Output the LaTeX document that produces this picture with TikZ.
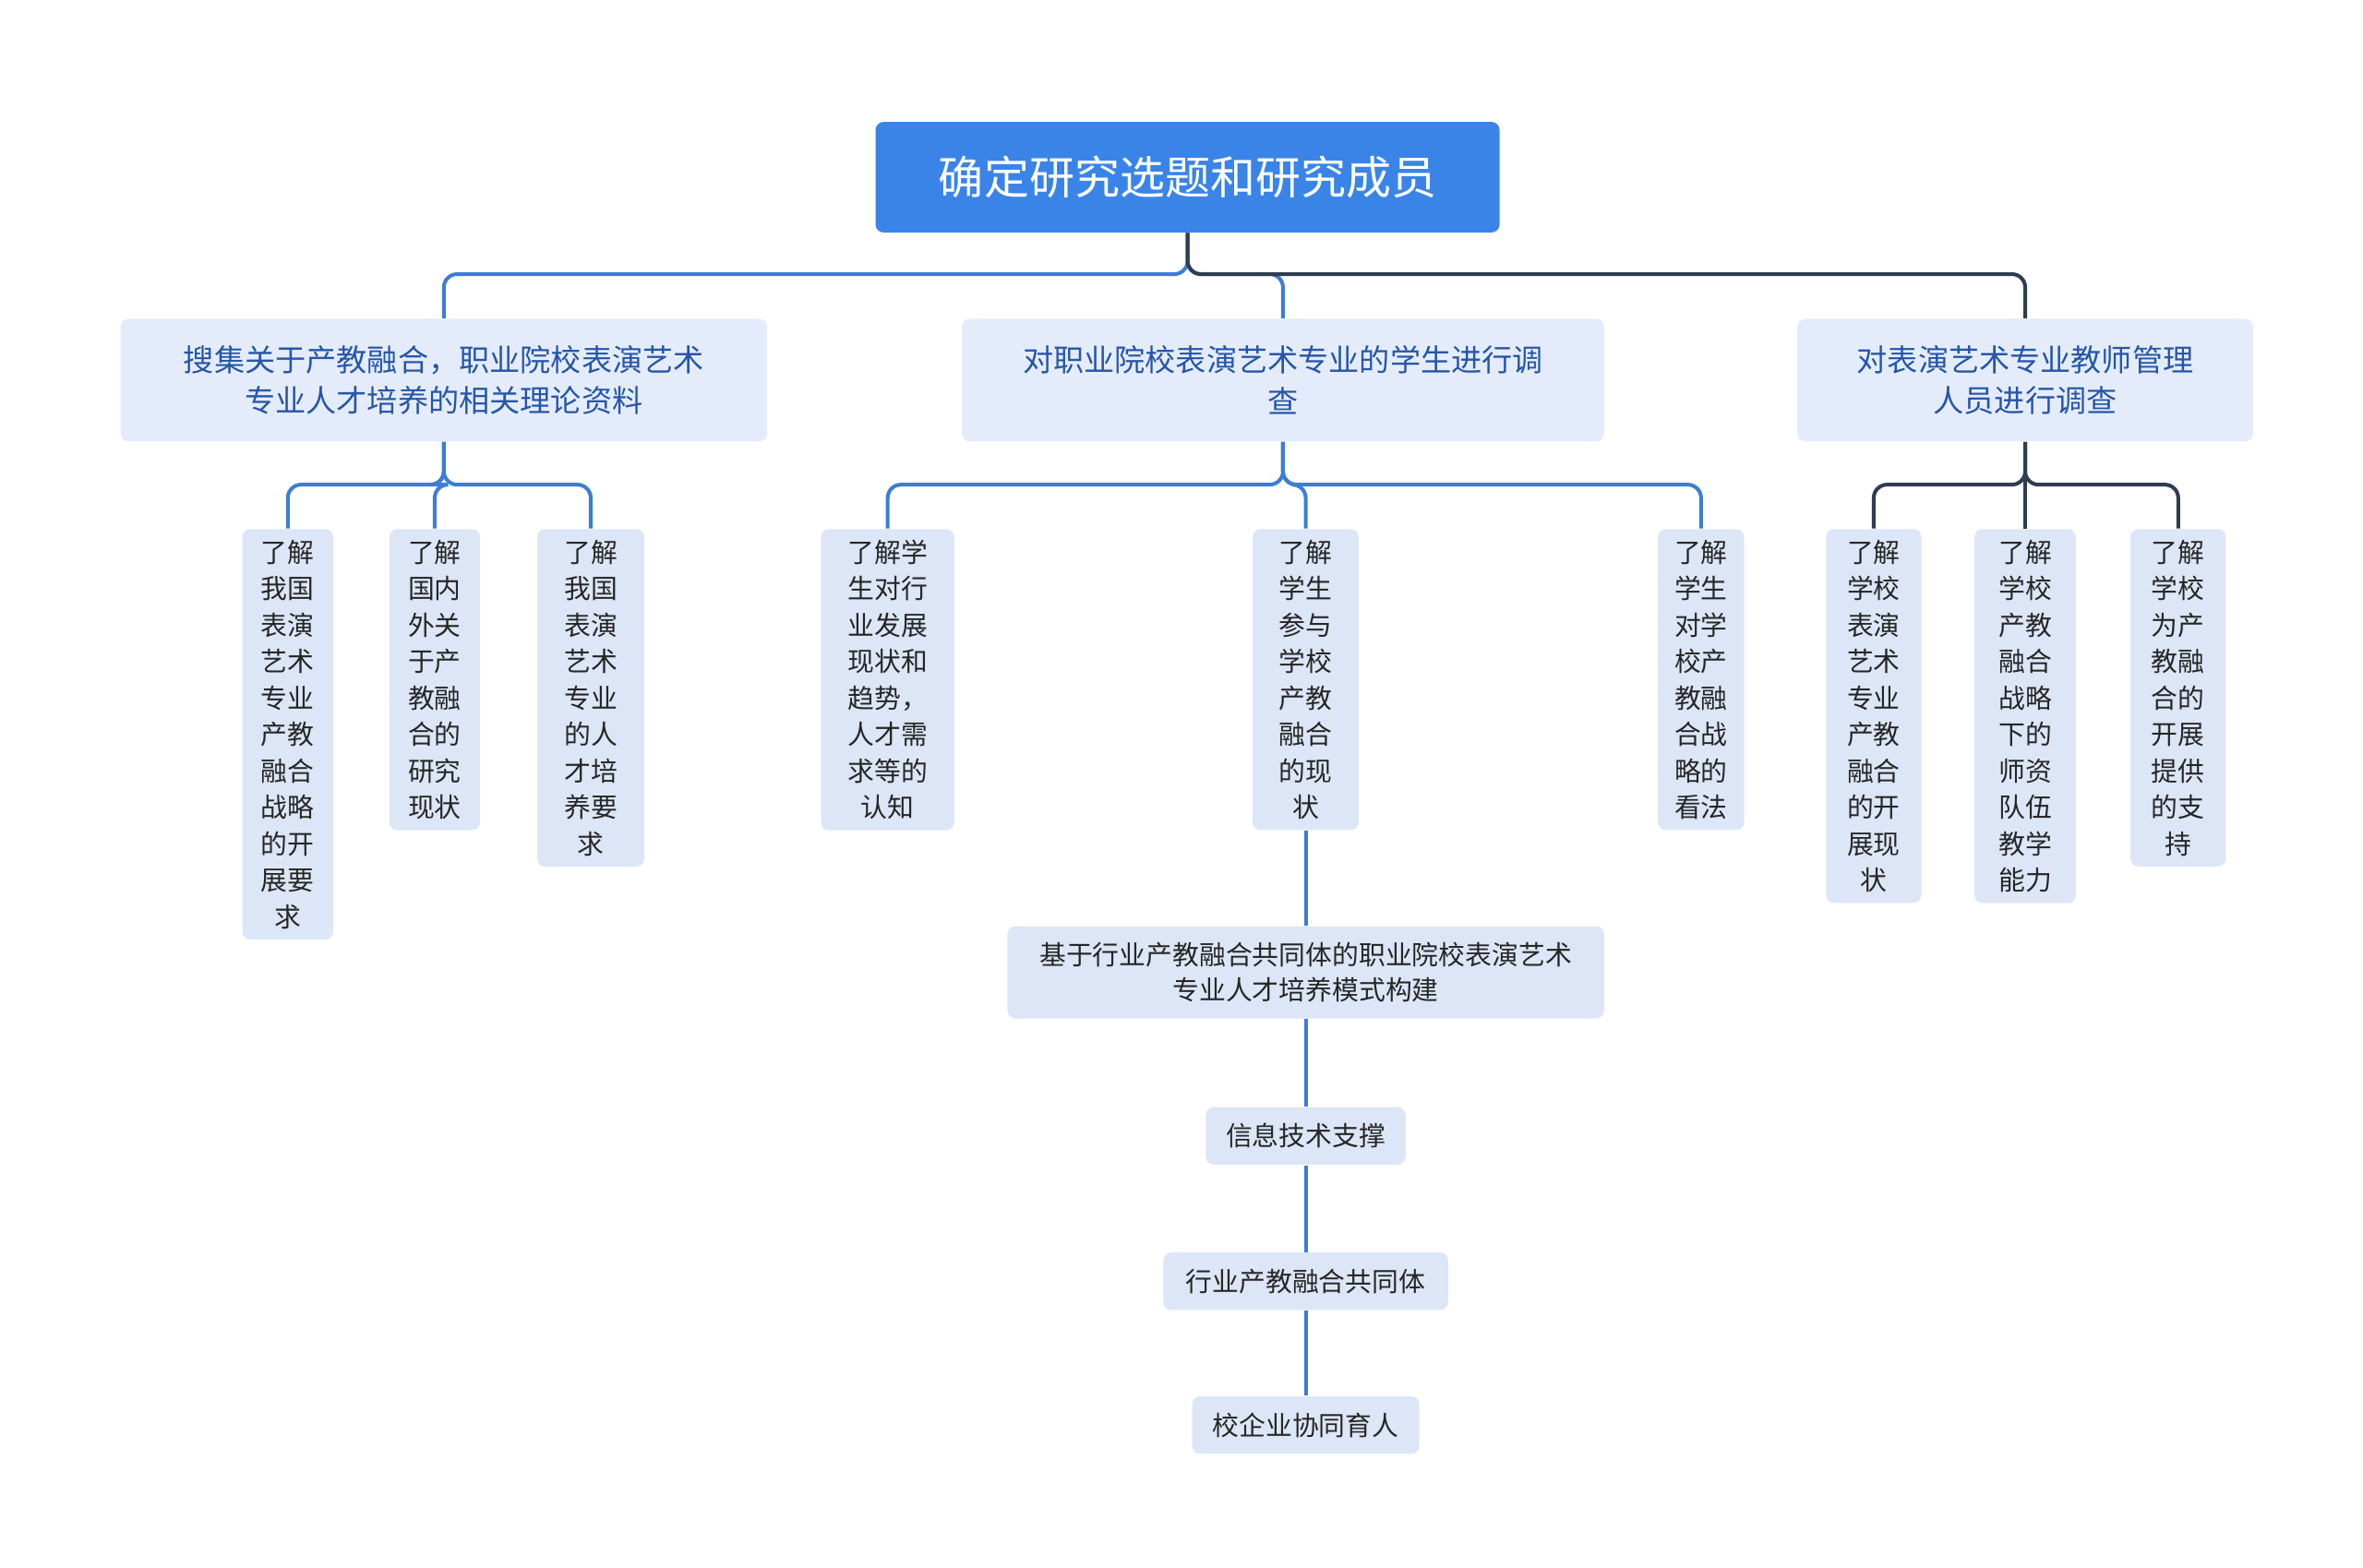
\documentclass[tikz,border=0pt]{standalone}
\usepackage{fontspec}
\setmainfont{Noto Sans CJK SC}
\usetikzlibrary{positioning}
\definecolor{rootblue}{HTML}{3A84E8}
\definecolor{topfill}{HTML}{E4ECFC}
\definecolor{leaffill}{HTML}{DDE6F7}
\definecolor{linkblue}{HTML}{3C7DD6}
\definecolor{linkdark}{HTML}{2E3D50}
\definecolor{toptext}{HTML}{2656A8}
\tikzset{
    rootbox/.style={fill=rootblue, text=white, rounded corners=3pt,
        minimum width=8.24cm, minimum height=1.46cm, font=\fontsize{17}{20}\selectfont},
    topbox/.style={fill=topfill, text=toptext, rounded corners=3pt, align=center,
        minimum height=1.62cm, font=\fontsize{11.5}{15.5}\selectfont},
    leafbox/.style={fill=leaffill, text=black!85, rounded corners=3pt, align=center,
        anchor=north, inner xsep=3pt, inner ysep=4pt, minimum width=1.2cm,
        font=\fontsize{10}{13.7}\selectfont},
    chainbox/.style={fill=leaffill, text=black!85, rounded corners=3pt, align=center,
        inner ysep=4pt, font=\fontsize{10}{13}\selectfont},
    bluelink/.style={draw=linkblue, line width=1.4pt, rounded corners=5pt},
    darklink/.style={draw=linkdark, line width=1.4pt, rounded corners=5pt}
}
\begin{document}
\begin{tikzpicture}[x=0.02cm,y=-0.02cm]
    \useasboundingbox (0,0) rectangle (1560,1035);
    \node[rootbox] (root) at (784,117) {确定研究选题和研究成员};

    \node[topbox, minimum width=8.54cm] (lit) at (293,251) {搜集关于产教融合，职业院校表演艺术\\专业人才培养的相关理论资料};
    \node[topbox, minimum width=8.48cm] (stu) at (847,251) {对职业院校表演艺术专业的学生进行调\\查};
    \node[topbox, minimum width=6.02cm] (tea) at (1337,251) {对表演艺术专业教师管理\\人员进行调查};

    \node[leafbox] (lit1) at (190,349) {了解\\我国\\表演\\艺术\\专业\\产教\\融合\\战略\\的开\\展要\\求};
    \node[leafbox] (lit2) at (287,349) {了解\\国内\\外关\\于产\\教融\\合的\\研究\\现状};
    \node[leafbox, minimum width=1.42cm] (lit3) at (390,349) {了解\\我国\\表演\\艺术\\专业\\的人\\才培\\养要\\求};

    \node[leafbox, minimum width=1.76cm] (stu1) at (586,349) {了解学\\生对行\\业发展\\现状和\\趋势，\\人才需\\求等的\\认知};
    \node[leafbox, minimum width=1.4cm] (stu2) at (862,349) {了解\\学生\\参与\\学校\\产教\\融合\\的现\\状};
    \node[leafbox, minimum width=1.14cm] (stu3) at (1123,349) {了解\\学生\\对学\\校产\\教融\\合战\\略的\\看法};

    \node[leafbox, minimum width=1.26cm] (tea1) at (1237,349) {了解\\学校\\表演\\艺术\\专业\\产教\\融合\\的开\\展现\\状};
    \node[leafbox, minimum width=1.34cm] (tea2) at (1337,349) {了解\\学校\\产教\\融合\\战略\\下的\\师资\\队伍\\教学\\能力};
    \node[leafbox, minimum width=1.26cm] (tea3) at (1438,349) {了解\\学校\\为产\\教融\\合的\\开展\\提供\\的支\\持};

    \node[chainbox, minimum width=7.88cm, minimum height=1.22cm] (model) at (862,642) {基于行业产教融合共同体的职业院校表演艺术\\专业人才培养模式构建};
    \node[chainbox, minimum width=2.64cm, minimum height=0.76cm] (info) at (862,750) {信息技术支撑};
    \node[chainbox, minimum width=3.76cm, minimum height=0.76cm] (comm) at (862,846) {行业产教融合共同体};
    \node[chainbox, minimum width=3.0cm, minimum height=0.76cm] (coop) at (862,941) {校企业协同育人};

    % bus points
    \coordinate (rootbus) at (784,181);
    \coordinate (litbus) at (293,320);
    \coordinate (stubus) at (847,320);
    \coordinate (teabus) at (1337,320);

    \draw[bluelink] (root.south) -- (rootbus) -| (lit.north);
    \draw[bluelink] (root.south) -- (rootbus) -| (stu.north);
    \draw[darklink] (root.south) -- (rootbus) -| (tea.north);

    \foreach \leaf in {lit1,lit2,lit3}
        \draw[bluelink] (lit.south) -- (litbus) -| (\leaf.north);
    \foreach \leaf in {stu1,stu2,stu3}
        \draw[bluelink] (stu.south) -- (stubus) -| (\leaf.north);
    \foreach \leaf in {tea1,tea2,tea3}
        \draw[darklink] (tea.south) -- (teabus) -| (\leaf.north);

    \draw[bluelink] (stu2.south) -- (model.north);
    \draw[bluelink] (model.south) -- (info.north);
    \draw[bluelink] (info.south) -- (comm.north);
    \draw[bluelink] (comm.south) -- (coop.north);
\end{tikzpicture}
\end{document}
